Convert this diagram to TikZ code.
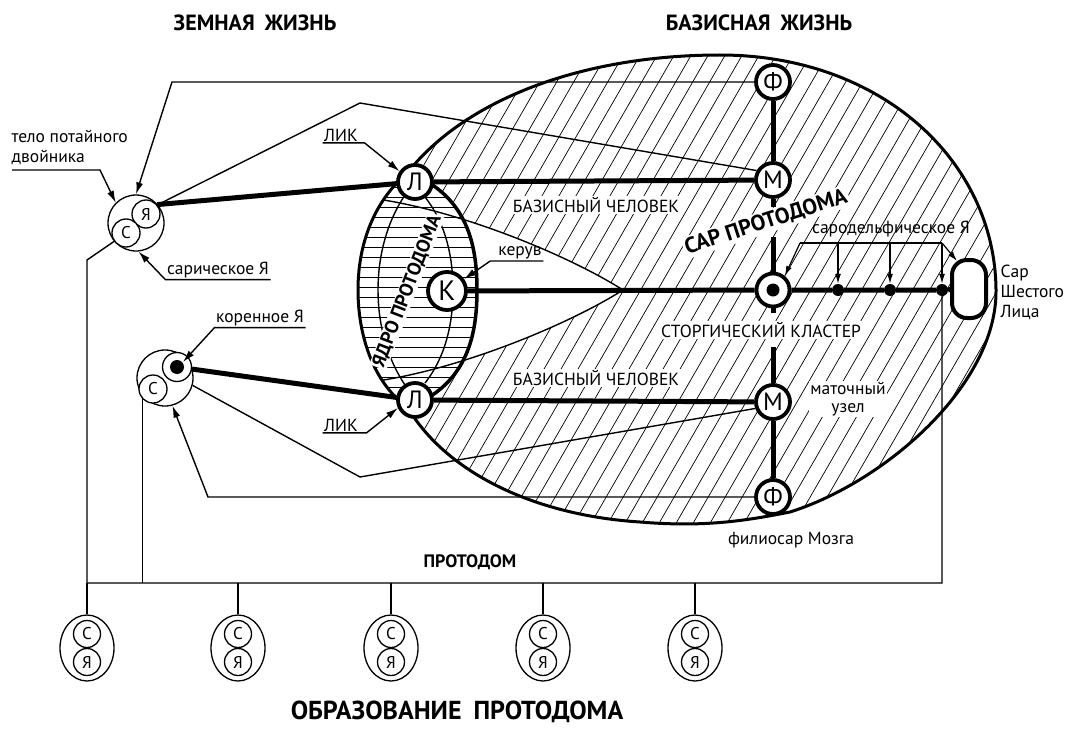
\documentclass[tikz,border=0pt]{standalone}
\usepackage{fontspec}
\setmainfont{PT Sans}
\usetikzlibrary{arrows.meta,shapes.geometric,calc}
\begin{document}
\begin{tikzpicture}[x=1pt,y=-1pt,
 lbl/.style={font=\fontsize{17.5}{20}\selectfont, inner sep=1.5pt},
 lblw/.style={lbl, fill=white},
 bigc/.style={circle, draw, line width=3.8pt, fill=white, minimum size=34pt, inner sep=0pt, font=\fontsize{25}{25}\selectfont},
 smc/.style={circle, draw, line width=1.3pt, fill=white, minimum size=28pt, inner sep=0pt, font=\fontsize{17}{17}\selectfont},
 dotn/.style={circle, fill, minimum size=12pt, inner sep=0pt},
 thickln/.style={line width=5pt},
 thinln/.style={line width=1.4pt},
 arr/.style={thinln, -{Latex[length=12pt,width=7pt]}},
 sarr/.style={line width=1.2pt, -{Latex[length=10pt,width=6pt]}},
 hatch/.style={line width=0.7pt},
 oval/.style={ellipse, draw, line width=1.3pt, minimum width=54pt, minimum height=66pt, inner sep=0pt},
 ttl/.style={font=\bfseries\fontsize{22}{22}\selectfont},
]
\useasboundingbox (0,0) rectangle (1075,733);

\def\eggpath{(408,172) .. controls (470,95) and (590,55) .. (720,55) .. controls (880,55) and (995,160) .. (996,290) .. controls (997,385) and (885,482) .. (790,512) .. controls (740,522) and (700,527) .. (640,522) .. controls (530,515) and (445,470) .. (408,408) .. controls (370,380) and (358,330) .. (358,290) .. controls (358,250) and (370,205) .. (408,172) -- cycle}
\def\lenspath{(408,172) .. controls (370,205) and (358,250) .. (358,290) .. controls (358,330) and (370,380) .. (408,408) .. controls (465,385) and (477,340) .. (477,290) .. controls (477,240) and (465,195) .. (408,172) -- cycle}
\def\wedgepath{(345,196) .. controls (430,199) and (560,250) .. (623,290) .. controls (560,330) and (430,381) .. (345,384)}

% hatching
\begin{scope}
 \clip \eggpath;
 \foreach \c in {-40,-23,...,900} \draw[hatch] (\c,733) -- ++(423,-733);
 \fill[white] \wedgepath -- cycle;
 \fill[white] \lenspath;
 \begin{scope}
  \clip \lenspath;
  \foreach \yy in {177,187,...,407} \draw[hatch] (340,\yy) -- (490,\yy);
 \end{scope}
 \draw[thinln] \wedgepath;
\end{scope}
\draw[thinln] (405,195) .. controls (385,225) and (378,260) .. (378,290) .. controls (378,320) and (385,355) .. (405,385);
\draw[thinln] (425,197) .. controls (447,225) and (453,260) .. (453,290) .. controls (453,320) and (447,355) .. (425,383);
\draw[line width=3pt] \eggpath;
\draw[line width=3.5pt] (408,408) .. controls (465,385) and (477,340) .. (477,290) .. controls (477,240) and (465,195) .. (408,172);

% nodes
\node[bigc] (F1) at (773,82) {Ф};
\node[bigc] (M1) at (773,180) {М};
\node[bigc] (L1) at (415,182) {Л};
\node[bigc] (L2) at (415,400) {Л};
\node[bigc] (M2) at (773,402) {М};
\node[bigc] (F2) at (773,497) {Ф};
\node[bigc, minimum size=38pt, font=\fontsize{28}{28}\selectfont] (K) at (447,291) {К};
\node[circle, draw, line width=3.8pt, fill=white, minimum size=33pt] (S) at (773,290) {};
\fill (S.center) circle (6.5);
\node[dotn] (d1) at (838,290) {};
\node[dotn] (d2) at (890,290) {};
\node[dotn] (d3) at (942,290) {};
\node[draw, line width=4pt, rounded corners=15pt, fill=white, minimum width=34pt, minimum height=58pt] (Sar) at (969,289) {};

\node[smc, minimum size=56pt] (G1) at (136,223) {};
\node[smc] (Ya1) at (146,214) {Я};
\node[smc] (C1) at (126,233) {С};
\node[smc, minimum size=56pt] (G2) at (165,378) {};
\node[smc, minimum size=29pt] (R2) at (177,367) {};
\fill (R2.center) circle (7);
\node[smc] (C2) at (153,389) {С};
\coordinate (R2dot) at (183,362);

\coordinate (bus) at (0,583);
\foreach \i/\xx in {1/87,2/238,3/391,4/543,5/695} {
 \node[oval] (O\i) at (\xx,648) {};
 \node[smc, minimum size=27pt] (Oc\i) at (\xx,634) {С};
 \node[smc, minimum size=27pt] (Oy\i) at (\xx,662) {Я};
 \draw[thinln] (O\i.north |- bus) -- (O\i.north);
}

% thick connectors
\draw[thickln] (F1) -- (M1);
\coordinate (v1) at (773,207);
\coordinate (v2) at (773,237);
\coordinate (v3) at (773,313);
\coordinate (v4) at (773,347);
\draw[thickln] (M1) -- (v1);
\draw[thickln] (v2) -- (S);
\draw[thickln] (S) -- (v3);
\draw[thickln] (v4) -- (M2);
\draw[thickln] (M2) -- (F2);
\draw[thickln] (L1) -- (M1);
\draw[thickln] (L2) -- (M2);
\draw[thickln] (K) -- (S);
\draw[thickln] (S) -- (d1) -- (d2) -- (d3) -- (Sar);
\draw[thickln] (Ya1.40) -- (L1);
\draw[thickln] (R2) -- (L2);

% thin connectors
\coordinate (k1) at (172,82);
\coordinate (k2) at (360,103);
\coordinate (k3) at (360,477);
\coordinate (k4) at (208,497);
\coordinate (k5) at (87,260);
\draw[arr] (F1.west) -- (k1) -- (G1.north);
\draw[thinln] (G1.40) -- (k2) -- (M1.150);
\draw[thinln] (G2.-15) -- (k3) -- (M2.200);
\draw[arr] (F2.west) -- (k4) -- (G2.-75);
\draw[thinln] (G1.220) -- (k5) -- (k5 |- bus) -- (d3 |- bus) -- (d3);
\draw[thinln] (C2.225) -- (C2.225 |- bus);

% labels with leaders
\node[lbl, align=left, anchor=west] (tpd) at (10,147) {тело потайного\\двойника};
\coordinate (tp1) at (12,170);
\coordinate (tp2) at (100,170);
\draw[arr] (tp1) -- (tp2) -- (G1.135);
\node[lbl] (sar) at (218,270) {сарическое Я};
\draw[arr] (sar.south east) -- (sar.south west) -- (G1.-85);
\node[lbl] (kor) at (260,318) {коренное Я};
\draw[arr] (kor.south east) -- (kor.south west) -- (R2dot);
\node[lbl] (lik1) at (341,135) {ЛИК};
\draw[arr] (lik1.south west) -- ++(42,0) -- (L1.145);
\node[lbl] (lik2) at (341,425) {ЛИК};
\draw[arr] (lik2.south west) -- ++(44,0) -- (L2.205);
\node[lbl] (kerub) at (520,253) {керув};
\draw[arr] (kerub.south east) -- ++(-53,0) -- (K.35);

\node[fill=white, inner sep=2pt, rotate=18, font=\bfseries\fontsize{22}{22}\selectfont] (sarp) at (766,222) {САР ПРОТОДОМА};
\node[fill=white, inner sep=1pt, rotate=69, font=\bfseries\fontsize{19}{19}\selectfont] (yadro) at (407,291) {ЯДРО ПРОТОДОМА};

\node[lbl] (sdl) at (891,229) {сародельфическое Я};
\coordinate (br1) at (800,243);
\coordinate (br2) at (942,243);
\draw[thinln] (br1) -- (br2);
\draw[sarr] (br1) -- (S.50);
\draw[sarr] (d1 |- br1) -- (d1.north);
\draw[sarr] (d2 |- br1) -- (d2.north);
\draw[sarr] (br2) -- (d3.north);
\draw[sarr] (br2) -- ($(Sar.north west)+(7,3)$);

\node[lblw] (bc1) at (596,205) {БАЗИСНЫЙ ЧЕЛОВЕК};
\node[lblw] (bc2) at (596,378) {БАЗИСНЫЙ ЧЕЛОВЕК};
\node[lblw] (stk) at (761,330) {СТОРГИЧЕСКИЙ КЛАСТЕР};
\node[lblw, align=center, font=\fontsize{17.5}{18}\selectfont] (mu) at (848,399) {маточный\\узел};
\node[lbl] (fm) at (791,540) {филиосар Мозга};
\node[lbl, align=left, anchor=west, font=\fontsize{17.5}{20}\selectfont] (ssl) at (999,292) {Сар\\Шестого\\Лица};

\node[ttl] (t1) at (255,23) {ЗЕМНАЯ\hspace{10pt}ЖИЗНЬ};
\node[ttl] (t2) at (759,23) {БАЗИСНАЯ\hspace{10pt}ЖИЗНЬ};
\node[ttl, font=\bfseries\fontsize{18}{18}\selectfont] (pd) at (470,562) {ПРОТОДОМ};
\node[ttl, font=\bfseries\fontsize{26}{26}\selectfont] (t3) at (457,712) {ОБРАЗОВАНИЕ\hspace{12pt}ПРОТОДОМА};
\end{tikzpicture}
\end{document}
